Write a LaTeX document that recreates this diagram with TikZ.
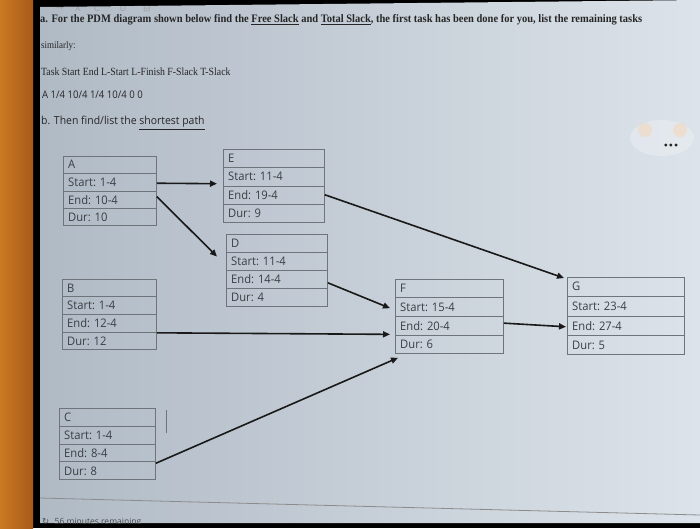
\documentclass[tikz,border=0pt]{standalone}
\usepackage{fontspec}
\setmainfont{Liberation Serif}
\newfontfamily\boxfont{Open Sans}
\newfontfamily\symfont{DejaVu Sans}
\usetikzlibrary{calc,arrows.meta,shadings}
\definecolor{screenL}{HTML}{B0BAC5}
\definecolor{screenR}{HTML}{DCE3EA}
\definecolor{boxline}{HTML}{6E747A}
\definecolor{boxtext}{HTML}{3A3E44}
\definecolor{orangeA}{HTML}{C97A22}
\definecolor{orangeB}{HTML}{A85A1A}
\tikzset{
  pdmrow/.style={font=\boxfont\fontsize{11.8}{13}\selectfont, text=boxtext, anchor=west, inner sep=0pt, xscale=0.95},
  link/.style={line width=1.6pt, draw=black!90, -{Triangle[length=7pt,width=6pt]}},
  hdr/.style={anchor=west, inner sep=0pt, text=black!85},
  tool/.style={font=\symfont\fontsize{9}{9}\selectfont, text=gray!75, inner sep=0pt},
}
% #1 name, #2 x, #3 y, #4 width, #5 height, #6 title, #7 start, #8 end, #9 dur
\newcommand\pdmbox[9]{%
  \node[draw=boxline, line width=0.8pt, minimum width=#4, minimum height=#5, anchor=north west, inner sep=0pt] (#1) at (#2,#3) {};
  \foreach \f in {0.25,0.5,0.75}{
    \draw[boxline, line width=0.8pt] ($(#1.north west)!\f!(#1.south west)$) -- ($(#1.north east)!\f!(#1.south east)$);
  }
  \node[pdmrow] at ($(#1.north west)!0.125!(#1.south west)+(5,0)$) {#6};
  \node[pdmrow] at ($(#1.north west)!0.375!(#1.south west)+(5,0)$) {#7};
  \node[pdmrow] at ($(#1.north west)!0.625!(#1.south west)+(5,0)$) {#8};
  \node[pdmrow] at ($(#1.north west)!0.875!(#1.south west)+(5,0)$) {#9};
}
\begin{document}
\begin{tikzpicture}[x=1pt,y=-1pt]
\useasboundingbox (0,0) rectangle (700,528);
% photo background
\fill[black] (0,0) rectangle (700,528);
\shade[left color=orangeA, right color=orangeB] (0,0) rectangle (33,528);
\shade[left color=screenL, right color=screenR] (40,7) -- (700,0) -- (700,523) -- (40,523) -- cycle;
\draw[black!45, line width=0.8pt] (40,498) -- (700,515);
% glare
\fill[white, opacity=0.25] (662,138) ellipse (32 and 18);
\fill[orange!40!white, opacity=0.35] (645,130) circle (7);
\fill[orange!40!white, opacity=0.35] (680,130) circle (7);
\node[font=\symfont\bfseries\fontsize{8}{8}\selectfont, text=black!85] (dots) at (671,146) {•••};
\begin{scope}
\clip (40,7) -- (700,0) -- (700,523) -- (40,523) -- cycle;
% toolbar
\node[tool] (t1) at (60,8.5) {→};
\node[tool] (t2) at (78,8.5) {X};
\node[tool] (t3) at (97,8.5) {C};
\node[tool] (t4) at (123,8.5) {⊙};
\node[tool] (t5) at (147,8.5) {⊟};
% timer
\node[hdr, font=\boxfont\fontsize{8.5}{9}\selectfont, text=black!70] (timer) at (42,522) {\symfont↻\ \ \boxfont 56 minutes remaining};
\end{scope}
% header texts
\node[hdr, font=\bfseries\fontsize{11.4}{12}\selectfont, xscale=0.92] (qa) at (40,20) {a. For the PDM diagram shown below find the \underline{Free Slack} and \underline{Total Slack}, the first task has been done for you, list the remaining tasks};
\node[hdr, font=\fontsize{10}{11}\selectfont, xscale=0.9] (sim) at (41,46) {similarly:};
\node[hdr, font=\fontsize{11}{12}\selectfont, xscale=0.89] (cols) at (41,72) {Task Start End L-Start L-Finish F-Slack T-Slack};
\node[hdr, font=\boxfont\fontsize{10.5}{12}\selectfont, xscale=0.91] (rowa) at (42,95) {A 1/4 10/4 1/4 10/4 0 0};
\node[hdr, font=\boxfont\fontsize{11}{12}\selectfont, xscale=0.95] (qb) at (41,123) {b. Then find/list the \underline{shortest path}};
% boxes
\pdmbox{A}{63}{156}{93pt}{69pt}{A}{Start: 1-4}{End: 10-4}{Dur: 10}
\pdmbox{E}{223}{149}{101pt}{73pt}{E}{Start: 11-4}{End: 19-4}{Dur: 9}
\pdmbox{D}{226}{234}{101pt}{72pt}{D}{Start: 11-4}{End: 14-4}{Dur: 4}
\pdmbox{B}{62}{279}{94pt}{70pt}{B}{Start: 1-4}{End: 12-4}{Dur: 12}
\pdmbox{F}{395}{279}{108pt}{74pt}{F}{Start: 15-4}{End: 20-4}{Dur: 6}
\pdmbox{G}{567}{277}{117pt}{77pt}{G}{Start: 23-4}{End: 27-4}{Dur: 5}
\pdmbox{C}{59}{408}{96pt}{71pt}{C}{Start: 1-4}{End: 8-4}{Dur: 8}
% text cursor
\coordinate (cur1) at (166,410);
\coordinate (cur2) at (166,433);
\draw[black!55, line width=0.8pt] (cur1) -- (cur2);
% connectors
\draw[link] ($(A.north east)!0.39!(A.south east)$) -- ($(E.north west)!0.47!(E.south west)+(-6,0)$);
\draw[link] ($(A.north east)!0.58!(A.south east)$) -- ($(D.north west)!0.31!(D.south west)+(-9,0)$);
\draw[link] ($(E.north east)!0.62!(E.south east)$) -- ($(G.north west)+(-3,1)$);
\draw[link] ($(D.north east)!0.67!(D.south east)$) -- ($(F.north west)!0.39!(F.south west)+(-5,0)$);
\draw[link] ($(B.north east)!0.76!(B.south east)$) -- ($(F.north west)!0.74!(F.south west)+(-5,0)$);
\draw[link] ($(C.north east)!0.77!(C.south east)$) -- ($(F.south west)+(3,4)$);
\draw[link] ($(F.north east)!0.59!(F.south east)$) -- ($(G.north west)!0.64!(G.south west)+(-1,0)$);
\end{tikzpicture}
\end{document}
